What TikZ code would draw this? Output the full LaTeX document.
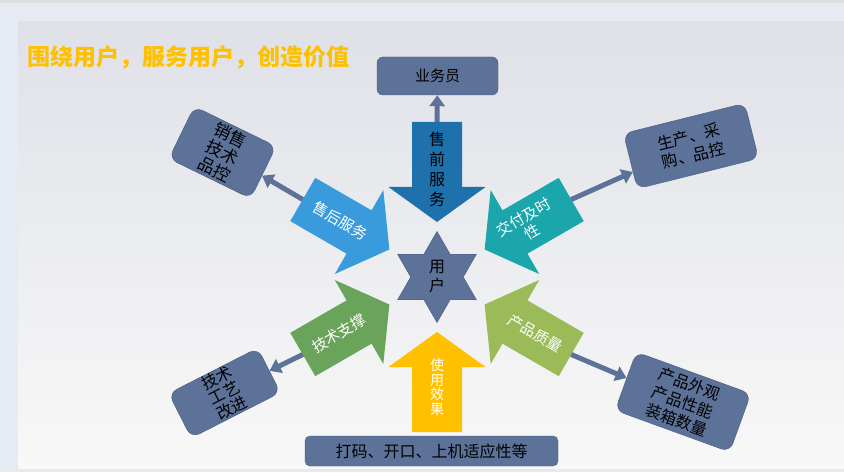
\documentclass[tikz,border=0pt]{standalone}
\usepackage{fontspec}
\setmainfont{Noto Sans CJK SC}
\usepackage{tikz}
\usetikzlibrary{calc,shapes.geometric,arrows.meta}

\definecolor{pagebg}{HTML}{E6EAF2}
\definecolor{topbar}{HTML}{DCDEE2}
\definecolor{paneltop}{HTML}{DFE1E8}
\definecolor{panelmid}{HTML}{EEEFF1}
\definecolor{panelbot}{HTML}{F8F8F7}
\definecolor{boxfill}{HTML}{5D7299}
\definecolor{boxline}{HTML}{47587E}
\definecolor{titlecol}{HTML}{FFC000}
\definecolor{presale}{HTML}{1F71AC}
\definecolor{aftersale}{HTML}{3A9BDC}
\definecolor{delivery}{HTML}{1AA6AA}
\definecolor{support}{HTML}{6AA45A}
\definecolor{quality}{HTML}{9BBB59}
\definecolor{effect}{HTML}{FFC000}

\tikzset{
    box/.style={draw=boxline, fill=boxfill, rounded corners=6pt, align=center, inner sep=0pt, text=black},
    tiltbox/.style={box, rounded corners=9pt, font=\fontsize{16}{19}\selectfont},
    link/.style={-{Triangle[width=15pt,length=11pt]}, line width=5pt, draw=boxfill},
    arrtext/.style={align=center, inner sep=0pt, text=white, font=\fontsize{15}{17}\selectfont},
    title/.style={text=titlecol, font=\fontsize{23}{26}\selectfont\bfseries, inner sep=0pt},
    pointer/.pic={
        \fill[pic actions] (55,0) -- (90,48.5) -- (90,25) -- (155,25) -- (155,-25) -- (90,-25) -- (90,-48.5) -- cycle;
        \coordinate (-tail) at (155,0);
    }
}

\begin{document}
\begin{tikzpicture}[x=1pt, y=1pt]
        % Background and panel
        \fill[pagebg] (0,0) rectangle (844,472);
        \fill[topbar] (0,469) rectangle (844,472);
        \shade[top color=paneltop, middle color=panelmid, bottom color=panelbot] (18,4) rectangle (844,450);
        \useasboundingbox (0,0) rectangle (844,472);

        % Title
        \node[title, anchor=west] (title) at (27,415) {围绕用户，服务用户，创造价值};

        % The user star
        \node[star, star points=6, star point ratio=1.732, minimum size=91pt, inner sep=0pt,
              draw=boxline, fill=boxfill, align=center, font=\fontsize{16}{19}\selectfont] (user) at (437,195) {用\\户};

        % Six block arrows
        \pic[rotate=90, fill=presale] (pre) at (437,195) {pointer};
        \pic[rotate=150, fill=aftersale] (after) at (437,195) {pointer};
        \pic[rotate=30, fill=delivery] (deliv) at (437,195) {pointer};
        \pic[rotate=210, fill=support] (supp) at (437,195) {pointer};
        \pic[rotate=330, fill=quality] (qual) at (437,195) {pointer};
        \pic[rotate=270, fill=effect] (eff) at (437,195) {pointer};

        % Arrow labels
        \node[arrtext, text=black, font=\fontsize{16}{20}\selectfont] (pretext) at ($(user)+(90:108)$) {售\\前\\服\\务};
        \node[arrtext, rotate=-30] (aftertext) at ($(user)+(150:112)$) {售后服务};
        \node[arrtext, rotate=30] (delivtext) at ($(user)+(30:105)$) {交付及时\\性};
        \node[arrtext, rotate=30] (supptext) at ($(user)+(210:113)$) {技术支撑};
        \node[arrtext, rotate=-30] (qualtext) at ($(user)+(330:113)$) {产品质量};
        \node[arrtext, font=\fontsize{14}{14.5}\selectfont] (efftext) at ($(user)+(270:110)$) {使\\用\\效\\果};

        % Target boxes
        \node[box, minimum width=121pt, minimum height=38pt, font=\fontsize{15}{18}\selectfont] (sales) at (437.5,396) {业务员};
        \node[tiltbox, rotate=-26, minimum width=91pt, minimum height=58pt, font=\fontsize{17}{19}\selectfont] (salesqc) at (222.5,319.5) {销售\\技术\\品控};
        \node[tiltbox, rotate=14, minimum width=125pt, minimum height=57pt] (prod) at (691,326) {生产、采\\购、品控};
        \node[tiltbox, rotate=27, minimum width=100pt, minimum height=50pt, font=\fontsize{16}{17}\selectfont] (craft) at (224.5,79) {技术\\工艺\\改进};
        \node[tiltbox, rotate=-20, minimum width=122pt, minimum height=62pt] (look) at (683,70) {产品外观\\产品性能\\装箱数量};
        \node[box, rounded corners=5pt, minimum width=253pt, minimum height=30pt, font=\fontsize{16}{19}\selectfont] (usage) at (431.5,21) {打码、开口、上机适应性等};

        % Connectors
        \draw[link] (pre-tail) -- (sales);
        \draw[link] (after-tail) -- (salesqc);
        \draw[link] (deliv-tail) -- (prod);
        \draw[link] (supp-tail) -- (craft);
        \draw[link] (qual-tail) -- (look);
\end{tikzpicture}
\end{document}
